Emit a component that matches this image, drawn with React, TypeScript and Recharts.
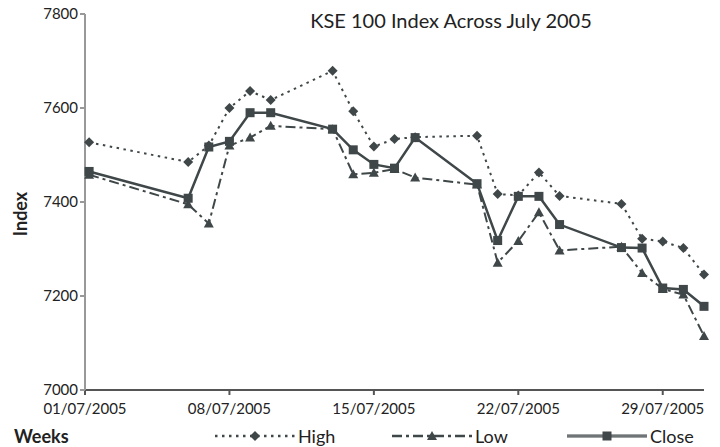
import React from "react";
import { LineChart, Line, XAxis, YAxis } from "recharts";

// where each session sits on the date axis (day of July 2005)
const datePositions = [1.2, 6, 7, 8, 9, 10, 13, 14, 15, 16, 17, 20, 21, 22, 23, 24, 27, 28, 29, 30, 31];

const highValues = [7527, 7485, 7520, 7600, 7636, 7617, 7679, 7593, 7518, 7534, 7538, 7541, 7417, 7414, 7463, 7413, 7396, 7322, 7316, 7302, 7246];
const lowValues = [7458, 7395, 7354, 7520, 7537, 7562, 7555, 7459, 7462, 7470, 7452, 7437, 7271, 7317, 7378, 7297, 7305, 7249, 7215, 7203, 7115];
const closeValues = [7465, 7408, 7517, 7529, 7590, 7590, 7555, 7511, 7480, 7472, 7537, 7439, 7318, 7412, 7412, 7352, 7303, 7302, 7217, 7214, 7178];

const xTicks = [1, 8, 15, 22, 29];
const yTicks = [7000, 7200, 7400, 7600, 7800];

const INK = "#3f4749";
const TEXT = "#222";
const FONT = "Lato, 'Open Sans', sans-serif";

const chartData = datePositions.map((pos, i) => ({
  pos,
  high: highValues[i],
  low: lowValues[i],
  close: closeValues[i],
}));

const fmtDate = (d: number) => `${String(d).padStart(2, "0")}/07/2005`;

const Diamond = (props: any) => {
  const { cx, cy } = props;
  if (cx == null || cy == null) return null;
  return <path d={`M${cx},${cy - 5} L${cx + 5},${cy} L${cx},${cy + 5} L${cx - 5},${cy} Z`} fill={INK} />;
};

const Triangle = (props: any) => {
  const { cx, cy } = props;
  if (cx == null || cy == null) return null;
  return <path d={`M${cx},${cy - 5} L${cx + 5},${cy + 4} L${cx - 5},${cy + 4} Z`} fill={INK} />;
};

const Square = (props: any) => {
  const { cx, cy } = props;
  if (cx == null || cy == null) return null;
  return <rect x={cx - 4.5} y={cy - 4.5} width={9} height={9} fill={INK} />;
};

function LegendItem({ dash, marker, text }: { dash?: string; marker: string; text: string }) {
  return (
    <div style={{ display: "flex", alignItems: "center", gap: 3 }}>
      <svg width={80} height={14}>
        {marker === "square" ? (
          <>
            <line x1={0} y1={7} x2={80} y2={7} stroke={INK} strokeWidth={3} />
            <line x1={0} y1={7} x2={80} y2={7} stroke="#a0a4a5" strokeWidth={1} />
          </>
        ) : (
          <line x1={0} y1={7} x2={80} y2={7} stroke={INK} strokeWidth={2.5} strokeDasharray={dash} />
        )}
        {marker === "diamond" && <path d="M40,2 L45,7 L40,12 L35,7 Z" fill={INK} />}
        {marker === "triangle" && <path d="M40,2 L45,11 L35,11 Z" fill={INK} />}
        {marker === "square" && <rect x={35.5} y={2.5} width={9} height={9} fill={INK} />}
      </svg>
      <span style={{ fontSize: 18, color: TEXT }}>{text}</span>
    </div>
  );
}

export default function App() {
  return (
    <div
      style={{
        position: "absolute",
        left: 0,
        top: 0,
        width: 720,
        height: 447,
        background: "#ffffff",
        fontFamily: FONT,
      }}
    >
      <LineChart
        width={720}
        height={447}
        data={chartData}
        margin={{ top: 14, right: 16, left: 0, bottom: 27 }}
      >
        <XAxis
          dataKey="pos"
          type="number"
          domain={[1, 31]}
          ticks={xTicks}
          tickFormatter={fmtDate}
          height={30}
          tickSize={5}
          tickMargin={8}
          stroke="#555"
          strokeWidth={2}
          tick={{ fontSize: 15, fill: TEXT, fontFamily: FONT }}
        />
        <YAxis
          type="number"
          domain={[7000, 7800]}
          ticks={yTicks}
          width={85}
          tickSize={5}
          stroke="#999"
          strokeWidth={2}
          tick={{ fontSize: 15, fill: TEXT, fontFamily: FONT }}
        />
        <text x={451} y={28} textAnchor="middle" fontSize={20} fill={TEXT} fontFamily={FONT}>
          KSE 100 Index Across July 2005
        </text>
        <text
          x={0}
          y={0}
          transform="translate(27, 214) rotate(-90)"
          textAnchor="middle"
          fontSize={18}
          fontWeight={700}
          fill={TEXT}
          fontFamily={FONT}
        >
          Index
        </text>
        <Line
          dataKey="high"
          stroke={INK}
          strokeWidth={2}
          strokeDasharray="2.5 4.5"
          dot={<Diamond />}
          isAnimationActive={false}
        />
        <Line
          dataKey="low"
          stroke={INK}
          strokeWidth={2}
          strokeDasharray="10 4 3 4"
          dot={<Triangle />}
          isAnimationActive={false}
        />
        <Line
          dataKey="close"
          stroke={INK}
          strokeWidth={2.5}
          dot={<Square />}
          isAnimationActive={false}
        />
      </LineChart>
      <div
        style={{
          position: "absolute",
          left: 14,
          top: 425,
          fontSize: 18,
          fontWeight: 700,
          color: TEXT,
        }}
      >
        Weeks
      </div>
      <div style={{ position: "absolute", left: 215, top: 425 }}>
        <LegendItem dash="2.5 4.5" marker="diamond" text="High" />
      </div>
      <div style={{ position: "absolute", left: 392, top: 425 }}>
        <LegendItem dash="10 4 3 4" marker="triangle" text="Low" />
      </div>
      <div style={{ position: "absolute", left: 567, top: 425 }}>
        <LegendItem marker="square" text="Close" />
      </div>
    </div>
  );
}
